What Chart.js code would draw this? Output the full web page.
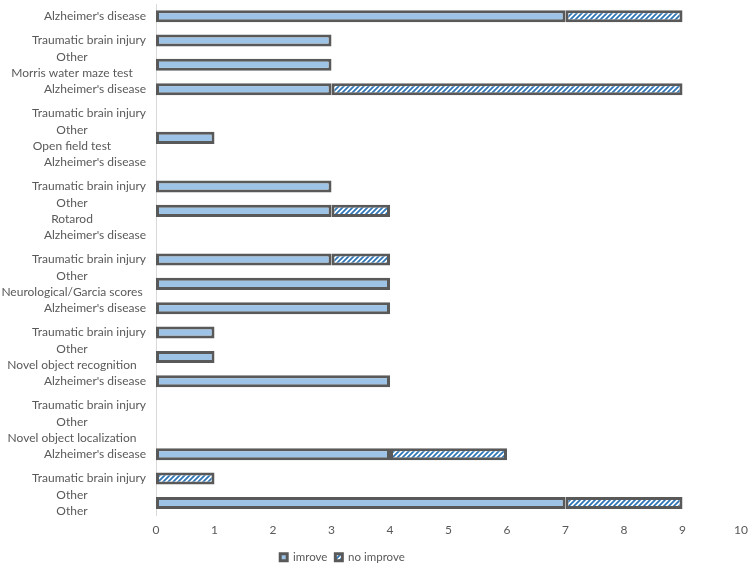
<!DOCTYPE html>
<html>
<head>
<meta charset="utf-8">
<script src="https://cdn.jsdelivr.net/npm/chart.js@4/dist/chart.umd.min.js"></script>
<style>
  body { margin: 0; background: #fff; }
</style>
</head>
<body>
<canvas id="js--chart" width="749" height="566"></canvas>
<script>
// categorie-data
const groups = [
    "Morris water maze test",
    "Open field test",
    "Rotarod",
    "Neurological/Garcia scores",
    "Novel object recognition",
    "Novel object localization",
    "Other"
];
const diseases = ["Alzheimer's disease", "Traumatic brain injury", "Other"];

const improve   = [7, 3, 3, 3, 0, 1, 0, 3, 3, 0, 3, 4, 4, 1, 1, 4, 0, 0, 4, 0, 7];
const noImprove = [2, 0, 0, 6, 0, 0, 0, 0, 1, 0, 1, 0, 0, 0, 0, 0, 0, 0, 2, 1, 2];

const xTicks = [0, 1, 2, 3, 4, 5, 6, 7, 8, 9, 10];

// labels: per groep 3 rijen, de laatste met de groepsnaam eronder
const labels = [];
groups.forEach(function (g) {
    labels.push(diseases[0]);
    labels.push(diseases[1]);
    labels.push([diseases[2], g]);
});

// streepjes patroon
function makeStripes() {
    const c = document.createElement("canvas");
    c.width = 5;
    c.height = 5;
    const p = c.getContext("2d");
    p.fillStyle = "#ffffff";
    p.fillRect(0, 0, 5, 5);
    p.strokeStyle = "#2E75B6";
    p.lineWidth = 1.8;
    p.beginPath();
    p.moveTo(-1, 6); p.lineTo(6, -1);
    p.moveTo(-6, 6); p.lineTo(6, -6);
    p.moveTo(-1, 11); p.lineTo(11, -1);
    p.stroke();
    return document.getElementById("js--chart").getContext("2d").createPattern(c, "repeat");
}

const textColor = "#595959";
const fontFamily = "Lato, 'Open Sans', sans-serif";

// categorie labels zelf tekenen
const labelPlugin = {
    id: "catLabels",
    afterDraw(chart) {
        const ctx = chart.ctx;
        const yScale = chart.scales.y;
        ctx.save();
        ctx.fillStyle = textColor;
        ctx.font = "12px " + fontFamily;
        ctx.textBaseline = "middle";
        labels.forEach(function (lab, i) {
            const y = yScale.getPixelForTick(i);
            if (Array.isArray(lab)) {
                ctx.textAlign = "center";
                ctx.fillText(lab[0], 72, y - 8);
                ctx.fillText(lab[1], 72, y + 8);
            } else {
                ctx.textAlign = "right";
                ctx.fillText(lab, 146, y);
            }
        });
        ctx.restore();
    }
};

// legenda iets verschuiven
const legendShift = {
    id: "legendShift",
    afterLayout(chart) {
        const lg = chart.legend;
        lg.left -= 28;
        lg.right -= 28;
        lg.top -= 2;
        lg.bottom -= 2;
    }
};

const data = {
    labels: labels,
    datasets: [
        {
            label: "imrove",
            data: improve,
            backgroundColor: "#9DC3E6",
            borderColor: "#595959",
            borderWidth: 3,
            borderSkipped: false
        },
        {
            label: "no improve",
            data: noImprove,
            backgroundColor: makeStripes(),
            borderColor: "#595959",
            borderWidth: 3,
            borderSkipped: false
        }
    ]
};

const config = {
    type: "bar",
    data: data,
    options: {
        indexAxis: "y",
        responsive: false,
        animation: false,
        layout: { padding: { top: 4, right: 8, left: 0, bottom: -9 } },
        datasets: {
            bar: { barPercentage: 0.55, categoryPercentage: 0.9 }
        },
        scales: {
            x: {
                stacked: true,
                min: xTicks[0],
                max: xTicks[xTicks.length - 1],
                grid: { display: false, drawTicks: false },
                border: { display: false },
                afterBuildTicks(scale) {
                    scale.ticks = xTicks.map(v => ({ value: v }));
                },
                afterFit(scale) {
                    scale.paddingRight = 0;
                },
                ticks: {
                    color: textColor,
                    font: { family: fontFamily, size: 12 },
                    padding: 8
                }
            },
            y: {
                stacked: true,
                grid: { display: false },
                border: { display: true, color: "#D9D9D9", width: 1 },
                ticks: { display: false },
                afterFit(scale) {
                    scale.width = 156;
                }
            }
        },
        plugins: {
            tooltip: { enabled: false },
            legend: {
                position: "bottom",
                labels: {
                    color: textColor,
                    font: { family: fontFamily, size: 11.5 },
                    boxWidth: 7,
                    boxHeight: 7,
                    padding: 8
                }
            }
        }
    },
    plugins: [labelPlugin, legendShift]
};

new Chart(document.getElementById("js--chart"), config);
</script>
</body>
</html>
